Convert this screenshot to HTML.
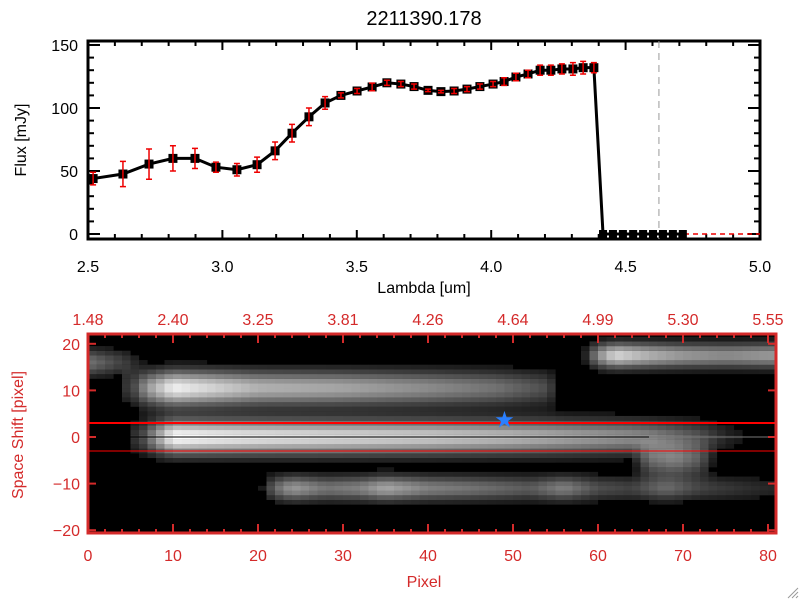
<!DOCTYPE html>
<html><head><meta charset="utf-8"><style>
html,body{margin:0;padding:0;background:#fff;}
svg{display:block;font-family:"Liberation Sans",sans-serif;}
</style></head><body>
<svg id="fig" width="800" height="600" viewBox="0 0 800 600" xmlns="http://www.w3.org/2000/svg">
<rect width="800" height="600" fill="#fff"/>
<text x="424" y="25" text-anchor="middle" font-size="20" fill="#000">2211390.178</text>
<g id="topplot"></g>
<g id="botplot"></g>
<g stroke="#999" stroke-width="1">
<line x1="788" y1="598" x2="798" y2="588"/><line x1="792" y1="598" x2="798" y2="592"/><line x1="796" y1="598" x2="798" y2="596"/>
</g>
</svg>
<script>
const NS="http://www.w3.org/2000/svg";
// ---------- top chart data ----------
const lambdas=[2.519,2.630,2.727,2.816,2.898,2.976,3.054,3.129,3.196,3.259,3.322,3.382,3.441,3.501,3.557,3.612,3.664,3.713,3.765,3.813,3.862,3.910,3.958,4.007,4.048,4.092,4.137,4.182,4.222,4.263,4.304,4.342,4.382,4.416,4.453,4.490,4.528,4.565,4.602,4.639,4.676,4.713];
const fluxes=[44,47.6,55.5,60,60,53,51,55,66,80,93,104,110,113.5,116.7,120,119,117,114,113,113.5,115,117,119,121,124.6,127,130,130,131,131,132,132,0,0,0,0,0,0,0,0,0];
const errors=[5,10,12,10,8,4,5,6,7,7,7,5,2,2,3,2,2,2,1,1,2,2,2,2,3,3,3,4,4,4,5,5,4,0,0,0,0,0,0,0,0,0];
const xTicks=[2.5,3.0,3.5,4.0,4.5,5.0];
const xTickLabels=["2.5","3.0","3.5","4.0","4.5","5.0"];
const yTicks=[0,50,100,150];
const yTickLabels=["0","50","100","150"];
const markerLambda=4.624;

const TL=88,TR=760,TT=41,TB=239;
const xs=v=>TL+(v-2.5)/2.5*(TR-TL);
const ys=v=>234-(v)*(189/150);
function el(tag,attrs,parent){const e=document.createElementNS(NS,tag);for(const k in attrs)e.setAttribute(k,attrs[k]);parent.appendChild(e);return e;}
const topG=document.getElementById('topplot');
let fr=el('rect',{x:TL,y:TT,width:TR-TL,height:TB-TT,fill:'none',stroke:'#000','stroke-width':3},topG);

for(let i=0;i<=25;i++){const v=2.5+i*0.1;const x=xs(v);const maj=i%5===0;const L=maj?9:5;
 el('line',{x1:x,y1:TB,x2:x,y2:TB-L,stroke:'#000','stroke-width':2},topG);
 el('line',{x1:x,y1:TT,x2:x,y2:TT+L,stroke:'#000','stroke-width':2},topG);}
for(let v=0;v<=150;v+=10){const y=ys(v);const maj=v%50===0;const L=maj?12:6;
 el('line',{x1:TL,y1:y,x2:TL+L,y2:y,stroke:'#000','stroke-width':2},topG);
 el('line',{x1:TR,y1:y,x2:TR-L,y2:y,stroke:'#000','stroke-width':2},topG);}
xTicks.forEach((v,i)=>{const t=el('text',{x:xs(v),y:272,'text-anchor':'middle','font-size':16,fill:'#000'},topG);t.textContent=xTickLabels[i];
 });
yTicks.forEach((v,i)=>{const t=el('text',{x:78,y:ys(v)+6,'text-anchor':'end','font-size':16,fill:'#000'},topG);t.textContent=yTickLabels[i];
 });
let xt=el('text',{x:424,y:293,'text-anchor':'middle','font-size':16,fill:'#000'},topG);xt.textContent='Lambda [um]';

let yt=el('text',{x:0,y:0,'text-anchor':'middle','font-size':16,fill:'#000',transform:'translate(26,140) rotate(-90)'},topG);yt.textContent='Flux [mJy]';

let zl=el('line',{x1:xs(lambdas[33]),y1:ys(0),x2:TR,y2:ys(0),stroke:'#e00','stroke-width':1.5,'stroke-dasharray':'5,4'},topG);

let ml=el('line',{x1:xs(markerLambda),y1:TT,x2:xs(markerLambda),y2:TB,stroke:'#999','stroke-width':1,'stroke-dasharray':'7,5'},topG);

let pts=lambdas.map((l,i)=>xs(l)+','+ys(fluxes[i])).join(' ');
let pl=el('polyline',{points:pts,fill:'none',stroke:'#000','stroke-width':3},topG);

lambdas.forEach((l,i)=>{const x=xs(l),y=ys(fluxes[i]);const h=fluxes[i]===0?4:4.5;
 const s=el('rect',{x:x-h,y:y-h,width:2*h,height:2*h,fill:'#000'},topG);
 
 const e=errors[i];if(e>0){const y1=ys(fluxes[i]+e),y2=ys(fluxes[i]-e);
  const g=el('path',{d:`M${x},${y1}V${y2}M${x-3},${y1}H${x+3}M${x-3},${y2}H${x+3}`,stroke:'#e00','stroke-width':1.5,fill:'none'},topG);
  }});

// ---------- bottom image data ----------
const streakMainX=[6,8,10,14,20,30,40,50,60,64,66,72,76];
const streakMainV=[0.2,0.6,1.0,0.95,0.9,0.85,0.8,0.72,0.6,0.55,0.5,0.3,0.1];
const streakUpperX=[5,7,10,12,20,30,40,48,54,56];
const streakUpperV=[0.2,0.6,0.95,0.9,0.7,0.65,0.55,0.45,0.3,0];
const streakTopRightX=[58,60,62,66,70,75,80];
const streakTopRightV=[0,0.55,0.85,0.7,0.6,0.55,0.6];
const streakLowerX=[20,22,24,28,32,35,40,45,52,56,60,64,68,72,80];
const streakLowerV=[0,0.4,0.6,0.45,0.5,0.65,0.5,0.45,0.35,0.5,0.3,0.25,0.4,0.25,0.15];
const streakSideX=[64,66,69,72,74];
const streakSideV=[0,0.35,0.45,0.3,0];
const streakLeftX=[0,2,4,7];
const streakLeftV=[0.45,0.35,0.25,0];
const streakYc=[0,10.5,17.5,-11,-5,16];
const streakSig=[2.6,2.6,1.9,1.9,2.4,2.0];
const topAxisLabels=["1.48","2.40","3.25","3.81","4.26","4.64","4.99","5.30","5.55"];
const pixTicks=[0,10,20,30,40,50,60,70,80];
const shiftTicks=[20,10,0,-10,-20];
const apertureShift=[3,-3];
const starPos=[49,3.8];

const BL=88,BR=776,BT=334,BB=533;
const px=p=>BL+p*8.5;
const py=s=>437-s*4.66;
const botG=document.getElementById('botplot');
const RED='#d42a2a';
function interp(X,V,x){if(x<=X[0])return x<X[0]-1?0:V[0];if(x>=X[X.length-1])return x>X[X.length-1]+1?0:V[V.length-1];
 for(let i=0;i<X.length-1;i++)if(x>=X[i]&&x<=X[i+1]){const t=(x-X[i])/(X[i+1]-X[i]);return V[i]+t*(V[i+1]-V[i]);}return 0;}
const streaks=[[streakMainX,streakMainV],[streakUpperX,streakUpperV],[streakTopRightX,streakTopRightV],[streakLowerX,streakLowerV],[streakSideX,streakSideV],[streakLeftX,streakLeftV]];
let bg=el('rect',{x:BL,y:BT,width:BR-BL,height:BB-BT,fill:'#000'},botG);

const imgG=el('g',{},botG);
for(let c=0;c<81;c++){for(let r=-21;r<=21;r++){let v=0;
 streaks.forEach((s,k)=>{const a=interp(s[0],s[1],c+0.5);const d=(r-streakYc[k])/streakSig[k];v+=a*Math.exp(-0.5*d*d);});
 v=Math.min(1,v);if(v<0.09)continue;const g=Math.round(255*v);
 const cell=el('rect',{x:px(c),y:py(r)-2.4,width:8.6,height:4.8,fill:`rgb(${g},${g},${g})`},imgG);
 }}
let zl2=el('line',{x1:BL,y1:py(0),x2:BR,y2:py(0),stroke:'#000','stroke-width':1},botG);

let zl3=el('line',{x1:px(66),y1:py(0),x2:BR,y2:py(0),stroke:'#777','stroke-width':1},botG);

apertureShift.forEach(s=>{const l=el('line',{x1:BL,y1:py(s),x2:BR,y2:py(s),stroke:'#f00','stroke-width':s>0?2:1},botG);
 });
let st=el('text',{x:px(starPos[0]),y:py(starPos[1])+7,'text-anchor':'middle','font-size':20,'font-weight':'bold',fill:'#2a7fff'},botG);st.textContent='★';

let bf=el('rect',{x:BL,y:BT,width:BR-BL,height:BB-BT,fill:'none',stroke:RED,'stroke-width':3},botG);

for(let p=0;p<=80;p+=2){const x=px(p);const L=p%10===0?9:4;
 el('line',{x1:x,y1:BB,x2:x,y2:BB-L,stroke:RED,'stroke-width':2},botG);
 el('line',{x1:x,y1:BT,x2:x,y2:BT+L,stroke:RED,'stroke-width':2},botG);}
pixTicks.forEach((p,i)=>{const t=el('text',{x:px(p),y:561,'text-anchor':'middle','font-size':16,fill:RED},botG);t.textContent=String(p);
 
 const u=el('text',{x:px(p),y:325,'text-anchor':'middle','font-size':16,fill:RED},botG);u.textContent=topAxisLabels[i];
 });
shiftTicks.forEach(s=>{const y=py(s);
 el('line',{x1:BL,y1:y,x2:BL+8,y2:y,stroke:RED,'stroke-width':2},botG);
 el('line',{x1:BR,y1:y,x2:BR-8,y2:y,stroke:RED,'stroke-width':2},botG);
 const t=el('text',{x:80,y:y+6,'text-anchor':'end','font-size':16,fill:RED},botG);t.textContent=s<0?'−'+(-s):String(s);
 });
let bx=el('text',{x:424,y:587,'text-anchor':'middle','font-size':16,fill:RED},botG);bx.textContent='Pixel';

let by=el('text',{x:0,y:0,'text-anchor':'middle','font-size':16,fill:RED,transform:'translate(23,435) rotate(-90)'},botG);by.textContent='Space Shift [pixel]';

</script>
</body></html>
